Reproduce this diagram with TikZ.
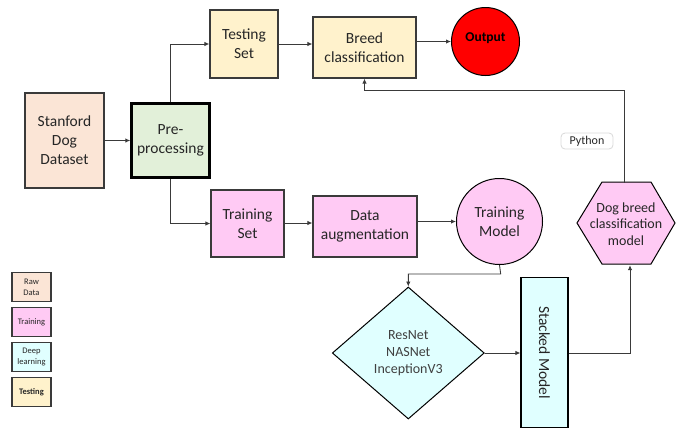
\documentclass[tikz,border=0pt]{standalone}
\usepackage{fontspec}
\setmainfont{Carlito}
\usetikzlibrary{shapes.geometric,arrows.meta}
\definecolor{rawc}{HTML}{FBE5D6}
\definecolor{prec}{HTML}{E2F0D9}
\definecolor{testc}{HTML}{FFF2CC}
\definecolor{trainc}{HTML}{FFCAF4}
\definecolor{deepc}{HTML}{E0FFFF}
\definecolor{linec}{HTML}{3A3A3A}
\definecolor{txtc}{HTML}{262626}
\tikzset{
  box/.style={draw=linec, line width=1.3pt, text=txtc, align=center, inner sep=1pt,
    font=\fontsize{15.5}{19}\selectfont},
  circ/.style={circle, draw=black, line width=1pt, text=txtc, align=center, inner sep=0pt},
  legbox/.style={draw=linec, line width=1.2pt, minimum width=39pt, minimum height=29.5pt,
    text=txtc, align=center, inner sep=0pt, font=\fontsize{8.5}{11}\selectfont},
  conn/.style={draw=linec, line width=0.9pt, -{Latex[length=5pt,width=4.5pt]}},
}
\begin{document}
\begin{tikzpicture}[x=1pt,y=-1pt]
\useasboundingbox (0,0) rectangle (683,429);
% main nodes
\node[box, fill=rawc, minimum width=79pt, minimum height=95pt] (sd) at (64.5,140.5) {Stanford\\Dog\\Dataset};
\node[box, fill=prec, draw=black, line width=2.4pt, minimum width=78pt, minimum height=74pt] (pre) at (170.5,140.5) {Pre-\\processing};
\node[box, fill=testc, minimum width=68pt, minimum height=68pt] (test) at (244,44) {Testing\\Set};
\node[box, fill=testc, minimum width=103pt, minimum height=61pt] (breed) at (364.5,47.5) {Breed\\classification};
\node[circ, fill=red, minimum size=68pt, font=\fontsize{13.5}{16}\selectfont\bfseries, text=black] (out) at (485.5,41.5) {\raisebox{8pt}{Output}};
\node[box, fill=trainc, minimum width=73pt, minimum height=67pt] (train) at (247.5,223.5) {Training\\Set};
\node[box, fill=trainc, minimum width=104pt, minimum height=61pt] (aug) at (365,226.5) {Data\\augmentation};
\node[circ, fill=trainc, minimum size=86pt, font=\fontsize{15.5}{19}\selectfont] (tm) at (499.5,221.5) {Training\\Model};
% hexagon
\draw[line width=1pt, fill=trainc] (577,223) -- (602,182) -- (651,182) -- (675,223) -- (651,264) -- (602,264) -- cycle;
\node[minimum width=98pt, minimum height=82pt, inner sep=0pt, text=txtc, align=center,
  font=\fontsize{14}{16.7}\selectfont] (hex) at (626,224) {Dog breed\\classification\\model};
\node[diamond, draw=black, line width=1pt, fill=deepc, minimum width=152pt, minimum height=132pt, inner sep=0pt,
  text=black!75, align=center, font=\fontsize{14}{16.7}\selectfont] (dia) at (408.3,353) {ResNet\\NASNet\\InceptionV3};
\node[draw=black, line width=1.2pt, fill=deepc, minimum width=47pt, minimum height=150pt, inner sep=0pt,
  label={[rotate=-90, text=txtc, font=\fontsize{15.5}{19}\selectfont]center:Stacked Model}] (stk) at (544.5,352.5) {};
\node[draw=black!15, line width=0.8pt, rounded corners=4pt, fill=white, minimum width=52pt, minimum height=16pt,
  inner sep=1pt, text=txtc, font=\fontsize{12}{14}\selectfont] (py) at (587,141) {Python};
% legend
\node[legbox, fill=rawc] (l1) at (31.5,287) {Raw\\Data};
\node[legbox, fill=trainc] (l2) at (31.5,322) {Training};
\node[legbox, fill=deepc] (l3) at (31.5,357) {Deep\\learning};
\node[legbox, fill=testc, font=\fontsize{8.5}{11}\selectfont\bfseries] (l4) at (31.5,392) {Testing};
% connectors
\draw[conn] (sd.east) -- (pre.west);
\draw[conn] (pre.north) |- (test.west);
\draw[conn] (pre.south) |- (train.west);
\draw[conn] (test.east) -- (test.east -| breed.west);
\draw[conn] (out.west -| breed.east) -- (out.west);
\draw[conn] (train.east |- aug.west) ++(0,-3.5) coordinate (ta) -- (ta -| aug.west);
\draw[conn] (tm.west -| aug.east) -- (tm.west);
\coordinate (tmd) at (500.7,274);
\draw[conn] (tm.south) -- (tmd) -| (dia.north);
\draw[conn] (dia.east) -- (dia.east -| stk.west);
\draw[conn] (stk.east |- dia.east) -| ([xshift=4pt]hex.south);
\coordinate (hup) at (624.5,90);
\draw[conn] ([xshift=-1.5pt]hex.north) -- (hup) -| (breed.south);
\end{tikzpicture}
\end{document}
